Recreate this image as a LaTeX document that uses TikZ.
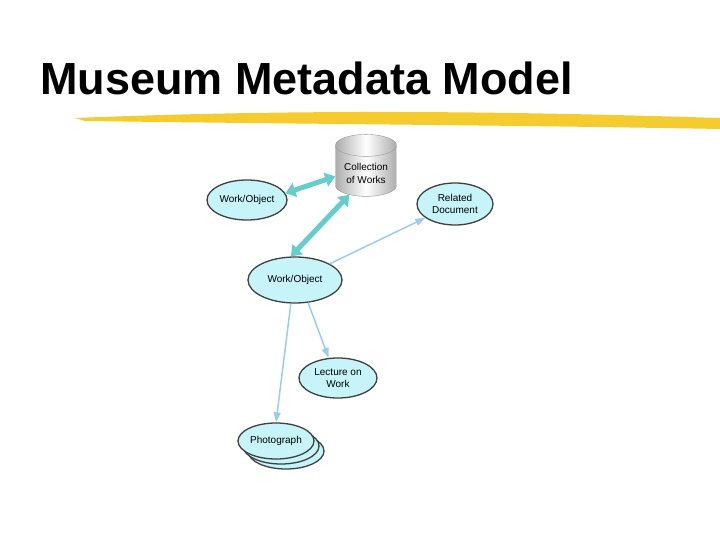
\documentclass[tikz,border=0pt]{standalone}
\usepackage{fontspec}
\setmainfont{Liberation Sans}
\usetikzlibrary{arrows.meta,shapes.geometric}
\definecolor{ellfill}{HTML}{C6F4F8}
\definecolor{tealarr}{HTML}{66CCCC}
\definecolor{bluearr}{HTML}{99CCF0}
\definecolor{brush}{HTML}{F5CC30}
\begin{document}
\begin{tikzpicture}[x=1pt,y=-1pt,
  ell/.style={ellipse,draw=black!75,line width=1.3pt,fill=ellfill,font=\fontsize{10}{12}\selectfont,align=center,inner sep=0pt},
  thick arr/.style={draw=tealarr,line width=5pt,{Triangle[length=10pt,width=14pt]}-{Triangle[length=10pt,width=14pt]}},
  thin arr/.style={draw=bluearr,line width=1.5pt,-{Triangle[length=10pt,width=7pt]}}]
\useasboundingbox (0,0) rectangle (720,540);
\node[anchor=base west,font=\fontsize{45}{48}\selectfont\bfseries,inner sep=0pt] (title) at (40,95) {Museum Metadata Model};
\fill[brush] (75,118) .. controls (300,109) and (500,111) .. (720,118) -- (720,129) .. controls (500,125) and (300,124) .. (85,121) -- cycle;
\node[ell,minimum width=80pt,minimum height=40pt] (w1) at (247,200) {Work/Object};
\node[cylinder,shape border rotate=90,draw=black!40,top color=gray!65,bottom color=gray!65,middle color=white,shading angle=90,minimum width=61pt,minimum height=62pt,aspect=0.5,align=center,font=\fontsize{10}{13}\selectfont,inner sep=0pt] (col) at (366,171) {\\Collection\\of Works};
\node[ell,minimum width=76pt,minimum height=42pt] (rel) at (455,204) {Related\\Document};
\node[ell,minimum width=94pt,minimum height=46pt] (w2) at (295,280) {Work/Object};
\node[ell,minimum width=78pt,minimum height=40pt] (lec) at (338,378) {Lecture on\\Work};
\node[ell,minimum width=76pt,minimum height=36pt] (p3) at (286,451) {};
\node[ell,minimum width=76pt,minimum height=36pt] (p2) at (281,446) {};
\node[ell,minimum width=76pt,minimum height=36pt] (ph) at (276,441) {Photograph};
\draw[thick arr] (w1.10) -- (col.190);
\draw[thick arr] (w2.100) -- (col.235);
\draw[thin arr] (w2.25) -- (rel.205);
\draw[thin arr] (w2.260) -- (ph.north);
\draw[thin arr] (w2.300) -- (lec.115);
\end{tikzpicture}
\end{document}
